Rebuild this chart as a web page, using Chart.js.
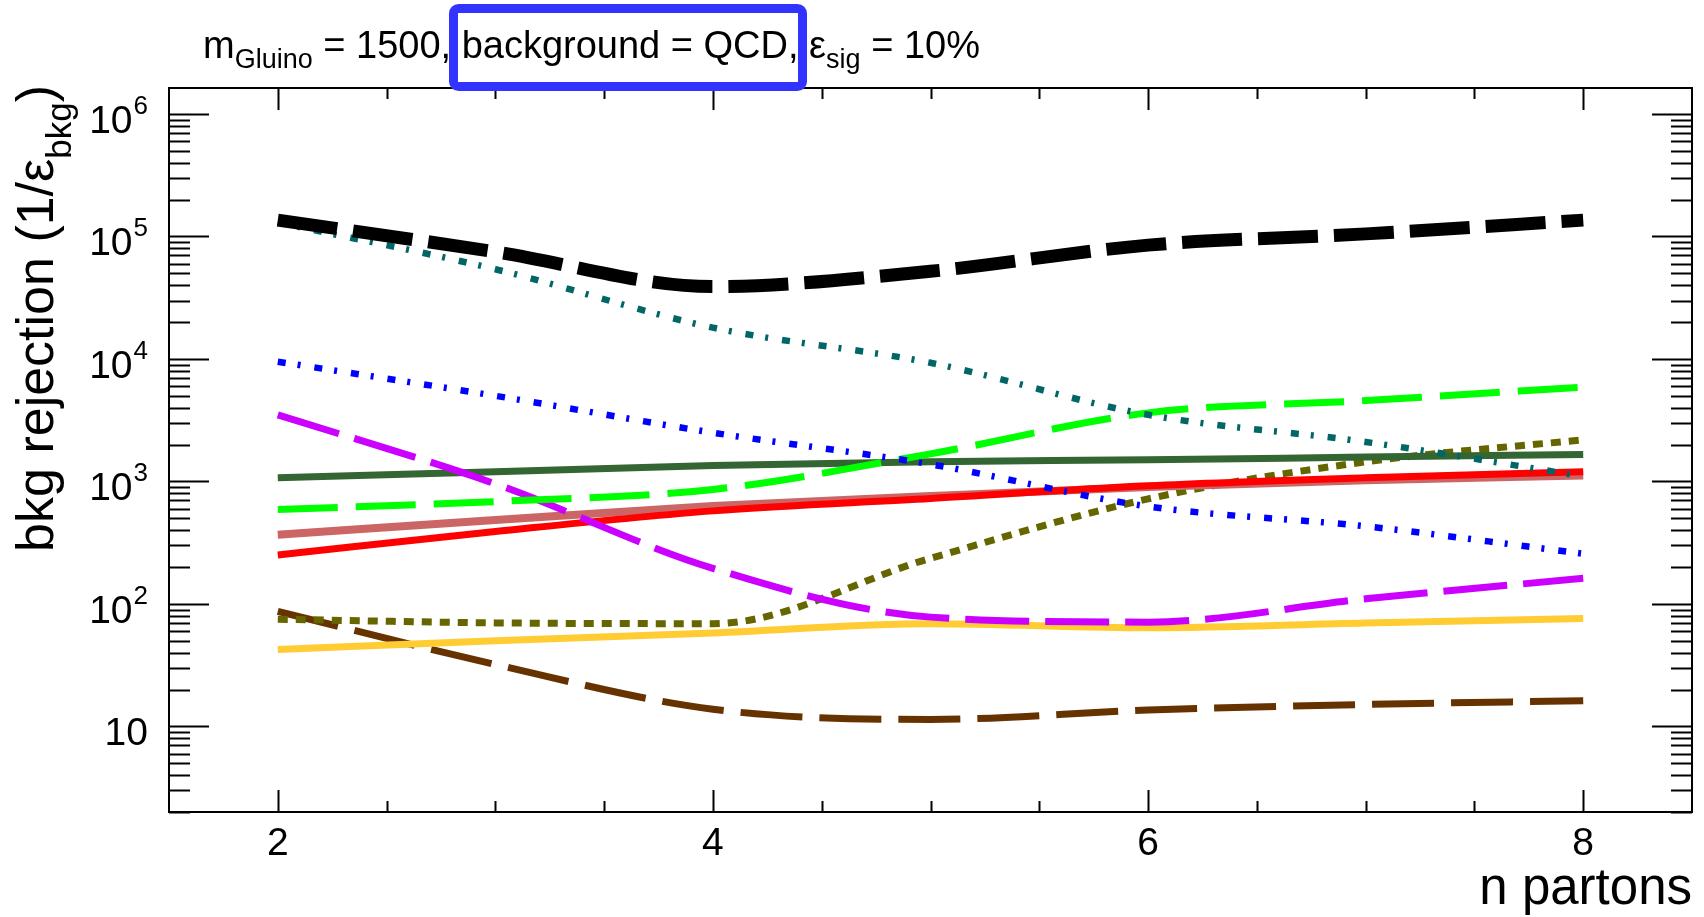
<!DOCTYPE html>
<html>
<head>
<meta charset="utf-8">
<script src="https://cdn.jsdelivr.net/npm/chart.js@4.4.1/dist/chart.umd.min.js"></script>
<style>
  html, body { margin: 0; padding: 0; background: #ffffff; }
  #c { display: block; }
</style>
</head>
<body>
<canvas id="c" width="1704" height="917" style="width:1704px;height:917px"></canvas>
<script>
// ---------------- data ----------------
const nPartons = [2, 3, 4, 5, 6, 7, 8];

const blackDashed   = [1.36e5, 7.5e4, 3.9e4, 5.2e4, 8.5e4, 1.05e5, 1.36e5];
const tealDashDot   = [1.3e5, 5.4e4, 1.8e4, 9.3e3, 3.5e3, 2.1e3, 1.1e3];
const blueDashDot   = [9.5e3, 5.0e3, 2.5e3, 1.38e3, 625, 430, 257];
const magentaDashed = [3500, 955, 195, 78, 71, 110, 162];
const darkGreenLine = [1070, 1200, 1350, 1450, 1500, 1580, 1660];
const greenDashed   = [590, 685, 860, 1680, 3630, 4570, 5890];
const redLine       = [251, 390, 575, 725, 920, 1070, 1200];
const roseLine      = [367, 484, 630, 760, 900, 1020, 1120];
const oliveDotted   = [75, 70, 69, 236, 720, 1445, 2190];
const orangeLine    = [42.5, 50, 58, 69, 64, 70, 76];
const brownDashed   = [87, 32, 13.8, 11.4, 13.6, 15.1, 16.2];

const xTickLabels = [2, 4, 6, 8];
const yTickValues = [10, 100, 1000, 10000, 100000, 1000000];
const yTickExponents = ['', '2', '3', '4', '5', '6'];

const titleParts = [
  { t: 'm', sub: false },
  { t: 'Gluino', sub: true },
  { t: ' = 1500, background = QCD, \u03B5', sub: false },
  { t: 'sig', sub: true },
  { t: ' = 10%', sub: false }
];
const yTitleParts = [
  { t: 'bkg rejection (1/\u03B5', sub: false },
  { t: 'bkg', sub: true },
  { t: ')', sub: false }
];
const xTitle = 'n partons';

// ---------------- helpers ----------------
const FONT = '"Liberation Sans", Arial, Helvetica, sans-serif';
const toXY = vals => nPartons.map((n, i) => ({ x: n, y: vals[i] }));

function ds(vals, color, width, dash) {
  return {
    data: toXY(vals),
    borderColor: color,
    backgroundColor: color,
    borderWidth: width,
    borderDash: dash,
    borderCapStyle: 'butt',
    borderJoinStyle: 'round',
    pointRadius: 0,
    pointHoverRadius: 0,
    fill: false,
    cubicInterpolationMode: 'monotone'
  };
}

function richWidth(ctx, parts, size, subSize) {
  let w = 0;
  for (const p of parts) {
    ctx.font = (p.sub ? subSize : size) + 'px ' + FONT;
    w += ctx.measureText(p.t).width;
  }
  return w;
}
function drawRich(ctx, parts, x, y, size, subSize, subShift) {
  let cx = x;
  ctx.textAlign = 'left';
  ctx.textBaseline = 'alphabetic';
  for (const p of parts) {
    ctx.font = (p.sub ? subSize : size) + 'px ' + FONT;
    ctx.fillText(p.t, cx, p.sub ? y + subShift : y);
    cx += ctx.measureText(p.t).width;
  }
}

const rootFrame = {
  id: 'rootFrame',
  afterDraw(chart) {
    const { ctx, chartArea: a, scales } = chart;
    const xs = scales.x, ys = scales.y;
    ctx.save();
    ctx.fillStyle = '#000';
    ctx.strokeStyle = '#000';
    ctx.lineWidth = 2;
    ctx.strokeRect(a.left, a.top, a.right - a.left, a.bottom - a.top);

    // x ticks (bottom and top, pointing inward)
    ctx.beginPath();
    for (let v = xs.min; v <= xs.max + 1e-9; v += 0.5) {
      const px = Math.round(xs.getPixelForValue(v)) + 0.5;
      if (px <= a.left + 1 || px >= a.right - 1) continue;
      const major = xTickLabels.includes(v);
      const len = major ? 22 : 11;
      ctx.moveTo(px, a.bottom); ctx.lineTo(px, a.bottom - len);
      ctx.moveTo(px, a.top); ctx.lineTo(px, a.top + len);
    }
    // y ticks (left and right, pointing inward)
    for (let d = 0; d <= 7; d++) {
      for (let k = 1; k <= 9; k++) {
        const v = k * Math.pow(10, d);
        if (v < ys.min || v > ys.max) continue;
        const py = Math.round(ys.getPixelForValue(v)) + 0.5;
        const len = (k === 1) ? 40 : 21;
        ctx.moveTo(a.left, py); ctx.lineTo(a.left + len, py);
        ctx.moveTo(a.right, py); ctx.lineTo(a.right - len, py);
      }
    }
    ctx.stroke();

    // x tick labels
    ctx.font = '39px ' + FONT;
    ctx.textAlign = 'center';
    ctx.textBaseline = 'alphabetic';
    for (const v of xTickLabels) {
      ctx.fillText(String(v), xs.getPixelForValue(v), a.bottom + 43);
    }
    // y tick labels (10^n)
    const labelRight = 148;
    yTickValues.forEach((v, i) => {
      const py = ys.getPixelForValue(v);
      const e = yTickExponents[i];
      ctx.textAlign = 'right';
      if (e === '') {
        ctx.font = '39px ' + FONT;
        ctx.fillText('10', labelRight, py + 19);
      } else {
        ctx.font = '26px ' + FONT;
        const ew = ctx.measureText(e).width;
        ctx.fillText(e, labelRight, py);
        ctx.font = '39px ' + FONT;
        ctx.fillText('10', labelRight - ew - 1, py + 19);
      }
    });

    // x axis title (right aligned at axis end)
    ctx.font = '51px ' + FONT;
    ctx.textAlign = 'right';
    ctx.fillText(xTitle, a.right, 904);

    // y axis title (rotated, aligned to axis top)
    const ySize = 52, ySub = 35;
    const yw = richWidth(ctx, yTitleParts, ySize, ySub);
    ctx.save();
    ctx.translate(53, a.top - 3);
    ctx.rotate(-Math.PI / 2);
    drawRich(ctx, yTitleParts, -yw, 0, ySize, ySub, 18);
    ctx.restore();

    // main title
    drawRich(ctx, titleParts, 203, 58, 38, 27, 10);

    // highlight box around "background = QCD"
    ctx.strokeStyle = '#3333ff';
    ctx.lineWidth = 9;
    ctx.beginPath();
    if (ctx.roundRect) ctx.roundRect(453.5, 8.5, 349, 78, 5);
    else ctx.rect(453.5, 8.5, 349, 78);
    ctx.stroke();
    ctx.restore();
  }
};

new Chart(document.getElementById('c'), {
  type: 'line',
  data: {
    datasets: [
      ds(blackDashed,   '#000000', 13, [60, 16]),
      ds(tealDashDot,   '#006666', 6.5, [8, 12, 3, 14]),
      ds(blueDashDot,   '#0000ff', 6.5, [8, 12, 3, 14]),
      ds(greenDashed,   '#00ff00', 7, [60, 18]),
      ds(magentaDashed, '#cc00ff', 7, [64, 16]),
      ds(darkGreenLine, '#336633', 7, []),
      ds(redLine,       '#ff0000', 7, []),
      ds(roseLine,      '#cc6666', 8, []),
      ds(oliveDotted,   '#666600', 7, [10, 8]),
      ds(orangeLine,    '#ffcc33', 7, []),
      ds(brownDashed,   '#663300', 7, [62, 17])
    ]
  },
  options: {
    responsive: false,
    devicePixelRatio: 1,
    animation: false,
    events: [],
    layout: { padding: { left: 169, top: 88, right: 12, bottom: 105 } },
    plugins: { legend: { display: false }, tooltip: { enabled: false }, title: { display: false } },
    scales: {
      x: { type: 'linear', min: 1.5, max: 8.5, display: false },
      y: { type: 'logarithmic', min: 2, max: 1.63e6, display: false }
    }
  },
  plugins: [rootFrame]
});
</script>
</body>
</html>
